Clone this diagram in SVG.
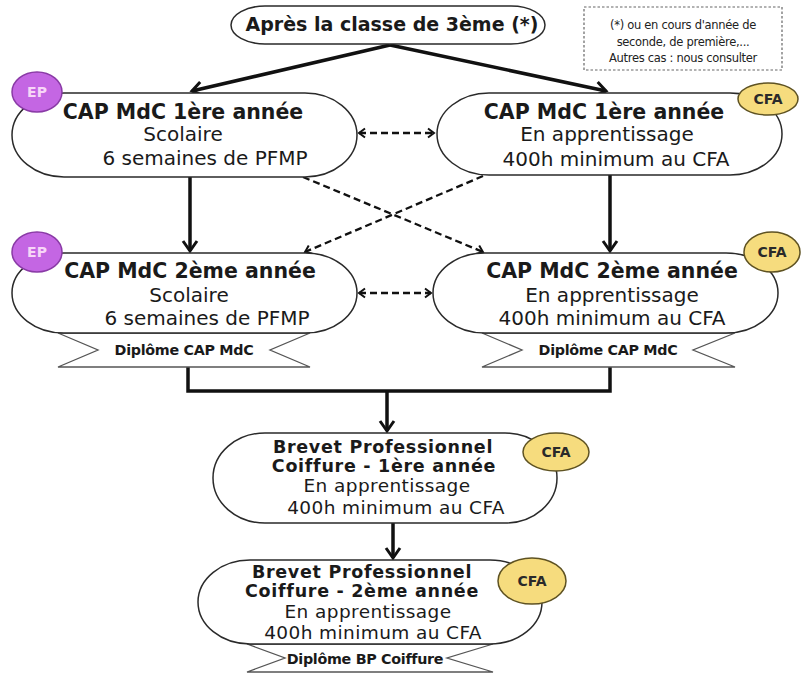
<svg xmlns="http://www.w3.org/2000/svg" width="803" height="673" viewBox="0 0 803 673">
<defs>
<style>
.node{fill:#fff;stroke:#2a2a2a;stroke-width:1.5}
.rib{fill:#fff;stroke:#555;stroke-width:1.3}
.t{font-family:"DejaVu Sans",sans-serif;fill:#1a1a1a;text-anchor:middle}
.b{font-weight:bold}
.r{font-size:20px}
.r2{font-size:18.5px;letter-spacing:0.4px}
.h{font-size:20.5px;font-weight:bold}
.bp{font-size:17.5px;font-weight:bold;letter-spacing:0.7px}
.dip{font-size:14.3px;font-weight:bold;letter-spacing:-0.3px}
.ep{fill:#c466e3;stroke:#8a3ba6;stroke-width:1.5}
.ept{font-family:"DejaVu Sans",sans-serif;font-size:14px;font-weight:bold;fill:#f7d6f7;text-anchor:middle}
.cfa{fill:#f6dc7e;stroke:#5e5222;stroke-width:1.5}
.cfat{font-family:"DejaVu Sans",sans-serif;font-size:14px;font-weight:bold;fill:#2a2a2a;text-anchor:middle}
.sol{fill:none;stroke:#111;stroke-width:3.5}
.dash{fill:none;stroke:#111;stroke-width:2.3;stroke-dasharray:7 4}
.note{font-family:"DejaVu Sans",sans-serif;font-size:11.5px;fill:#222;text-anchor:middle;letter-spacing:-0.3px}
</style>
<marker id="ah" markerUnits="userSpaceOnUse" markerWidth="20" markerHeight="20" viewBox="-14 -10 18 20" refX="0" refY="0" orient="auto">
<path d="M-10,-7 L0,0 L-10,7" fill="none" stroke="#111" stroke-width="3"/>
</marker>
<marker id="dh" markerUnits="userSpaceOnUse" markerWidth="14" markerHeight="14" viewBox="-10 -7 12 14" refX="0" refY="0" orient="auto-start-reverse">
<path d="M-6,-4.5 L0,0 L-6,4.5" fill="none" stroke="#111" stroke-width="2"/>
</marker>
</defs>
<rect width="803" height="673" fill="#fff"/>

<g id="connectors">
<line class="sol" x1="390" y1="45" x2="192" y2="91" marker-end="url(#ah)"/>
<line class="sol" x1="390" y1="45" x2="606" y2="91" marker-end="url(#ah)"/>
<line class="sol" x1="190" y1="177" x2="190" y2="251" marker-end="url(#ah)"/>
<line class="sol" x1="610" y1="175" x2="610" y2="251" marker-end="url(#ah)"/>
<path class="sol" d="M188,367 V391 H610 V367"/>
<line class="sol" x1="387" y1="391" x2="387" y2="431" marker-end="url(#ah)"/>
<line class="sol" x1="393" y1="523" x2="393" y2="558" marker-end="url(#ah)"/>
<line class="dash" x1="359" y1="133" x2="434" y2="133" marker-start="url(#dh)" marker-end="url(#dh)"/>
<line class="dash" x1="359" y1="293" x2="431" y2="293" marker-start="url(#dh)" marker-end="url(#dh)"/>
<line class="dash" x1="303" y1="177" x2="483" y2="252" marker-end="url(#dh)"/>
<line class="dash" x1="483" y1="176" x2="305" y2="252" marker-end="url(#dh)"/>
</g>

<g id="start">
<rect class="node" x="231" y="6" width="314" height="38" rx="34" ry="19"/>
<text class="t b" x="392" y="31" font-size="19">Après la classe de 3ème (*)</text>
</g>

<g id="note">
<rect x="584" y="7" width="198" height="63" fill="#fff" stroke="#666" stroke-width="1.2" stroke-dasharray="2.5 2"/>
<text class="note" x="683" y="29">(*) ou en cours d'année de</text>
<text class="note" x="683" y="46">seconde, de première,...</text>
<text class="note" x="683" y="62">Autres cas : nous consulter</text>
</g>

<g id="cap1-scolaire">
<rect class="node" x="12" y="93" width="345" height="84" rx="52" ry="42"/>
<text class="t h" x="183" y="119">CAP MdC 1ère année</text>
<text class="t r" x="183" y="141">Scolaire</text>
<text class="t r" x="205" y="165">6 semaines de PFMP</text>
<ellipse class="ep" cx="37" cy="92" rx="25" ry="20"/>
<text class="ept" x="37" y="97">EP</text>
</g>

<g id="cap1-apprentissage">
<rect class="node" x="437" y="93" width="345" height="82" rx="52" ry="41"/>
<text class="t h" x="604" y="119">CAP MdC 1ère année</text>
<text class="t r" x="607" y="141">En apprentissage</text>
<text class="t r" x="616" y="166">400h minimum au CFA</text>
<ellipse class="cfa" cx="768" cy="99" rx="30" ry="16"/>
<text class="cfat" x="768" y="104">CFA</text>
</g>

<g id="cap2-scolaire">
<polygon class="rib" points="58,333 310,333 270,350 310,367 58,367 98,350"/>
<rect class="node" x="12" y="253" width="345" height="80" rx="52" ry="40"/>
<text class="t h" x="190" y="278">CAP MdC 2ème année</text>
<text class="t r" x="189" y="302">Scolaire</text>
<text class="t r" x="207" y="325">6 semaines de PFMP</text>
<text class="t dip" x="184" y="355">Diplôme CAP MdC</text>
<ellipse class="ep" cx="37" cy="252" rx="25" ry="20"/>
<text class="ept" x="37" y="257">EP</text>
</g>

<g id="cap2-apprentissage">
<polygon class="rib" points="482,333 735,333 693,350 735,367 482,367 522,350"/>
<rect class="node" x="433" y="253" width="345" height="80" rx="52" ry="40"/>
<text class="t h" x="612" y="278">CAP MdC 2ème année</text>
<text class="t r" x="612" y="302">En apprentissage</text>
<text class="t r" x="612" y="325">400h minimum au CFA</text>
<text class="t dip" x="608" y="355">Diplôme CAP MdC</text>
<ellipse class="cfa" cx="772" cy="252" rx="28" ry="20"/>
<text class="cfat" x="772" y="257">CFA</text>
</g>

<g id="bp1">
<rect class="node" x="213" y="433" width="344" height="90" rx="52" ry="45"/>
<text class="t bp" x="383" y="453">Brevet Professionnel</text>
<text class="t bp" x="384" y="472">Coiffure - 1ère année</text>
<text class="t r2" x="387" y="492">En apprentissage</text>
<text class="t r2" x="396" y="514">400h minimum au CFA</text>
<ellipse class="cfa" cx="556" cy="452" rx="33" ry="19"/>
<text class="cfat" x="556" y="457">CFA</text>
</g>

<g id="bp2">
<polygon class="rib" points="247,644 493,644 447,658 493,672 247,672 285,658"/>
<rect class="node" x="198" y="560" width="344" height="84" rx="52" ry="42"/>
<text class="t bp" x="362" y="578">Brevet Professionnel</text>
<text class="t bp" x="362" y="597">Coiffure - 2ème année</text>
<text class="t r2" x="368" y="618">En apprentissage</text>
<text class="t r2" x="373" y="639">400h minimum au CFA</text>
<text class="t dip" x="365" y="664" font-size="14">Diplôme BP Coiffure</text>
<ellipse class="cfa" cx="532" cy="581" rx="34" ry="23"/>
<text class="cfat" x="532" y="586">CFA</text>
</g>
</svg>
